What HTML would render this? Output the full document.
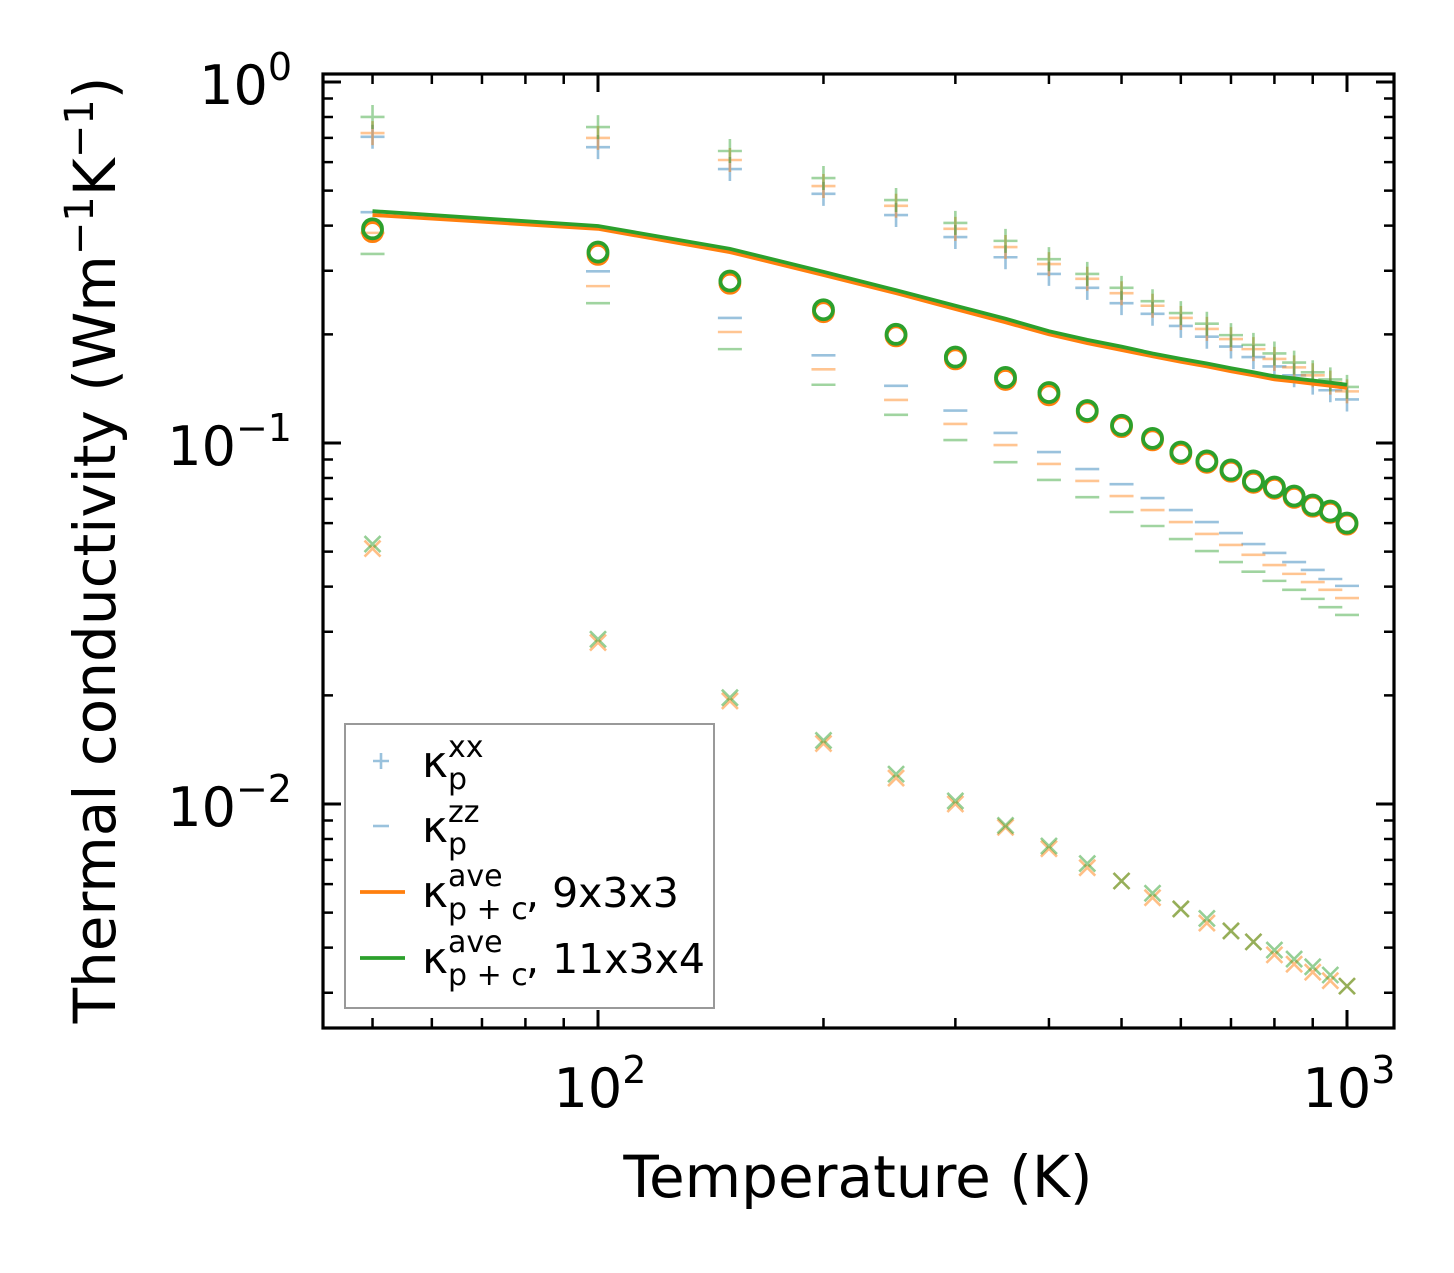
<!DOCTYPE html>
<html><head><meta charset="utf-8"><style>
body{margin:0;background:#fff;}
svg text{font-family:"DejaVu Sans","Liberation Sans",sans-serif;}
</style></head><body>
<svg id="chart" width="1454" height="1268" viewBox="0 0 1454 1268" xmlns="http://www.w3.org/2000/svg">
<rect width="1454" height="1268" fill="#fff"/>
<g id="marks"></g>
<g id="axes"></g>
</svg>
<script>
const temps=[50,100,150,200,250,300,350,400,450,500,550,600,650,700,750,800,850,900,950,1000];
const kxxBlue=[0.705,0.660,0.574,0.490,0.428,0.372,0.327,0.294,0.269,0.244,0.228,0.211,0.197,0.185,0.173,0.163,0.154,0.147,0.140,0.132];
const kxxOrange=[0.722,0.700,0.608,0.515,0.454,0.392,0.349,0.313,0.285,0.260,0.240,0.222,0.207,0.194,0.182,0.171,0.162,0.154,0.147,0.139];
const kxxGreen=[0.800,0.750,0.644,0.542,0.471,0.407,0.363,0.323,0.294,0.269,0.247,0.229,0.214,0.199,0.187,0.177,0.167,0.157,0.150,0.143];
const kzzBlue=[0.436,0.299,0.222,0.175,0.144,0.123,0.1066,0.0944,0.0847,0.0769,0.0704,0.0652,0.0604,0.0563,0.0525,0.0496,0.0468,0.0445,0.0420,0.0402];
const kzzOrange=[0.382,0.272,0.203,0.160,0.1316,0.1129,0.0987,0.0875,0.0785,0.0713,0.0652,0.0604,0.0560,0.0522,0.0490,0.0459,0.0434,0.0412,0.0392,0.0372];
const kzzGreen=[0.334,0.244,0.182,0.145,0.1197,0.1019,0.0885,0.0790,0.0708,0.0644,0.0589,0.0542,0.0502,0.0468,0.0440,0.0415,0.0392,0.0370,0.0351,0.0334];
const kaveOrange=[0.385,0.333,0.277,0.231,0.198,0.171,0.150,0.136,0.122,0.111,0.102,0.0935,0.0884,0.0835,0.0778,0.0749,0.0707,0.0668,0.0643,0.0596];
const kaveGreen=[0.392,0.338,0.281,0.234,0.200,0.173,0.152,0.138,0.123,0.112,0.103,0.0944,0.0892,0.0842,0.0785,0.0755,0.0713,0.0673,0.0648,0.0600];
const lineOrange=[0.428,0.392,0.338,0.292,0.260,0.235,0.216,0.200,0.189,0.181,0.174,0.168,0.163,0.158,0.154,0.150,0.148,0.146,0.144,0.142];
const lineGreen=[0.439,0.399,0.345,0.298,0.265,0.240,0.221,0.204,0.193,0.185,0.177,0.171,0.166,0.161,0.157,0.153,0.151,0.149,0.147,0.145];
const kcOrange=[0.0510,0.0280,0.0193,0.0147,0.0118,0.0100,0.00862,0.00752,0.00666,0.00612,0.00550,0.00512,0.00468,0.00445,0.00415,0.00382,0.00360,0.00342,0.00324,0.00313];
const kcGreen=[0.0525,0.0286,0.0197,0.0150,0.0121,0.0102,0.00872,0.00765,0.00684,0.00612,0.00566,0.00512,0.00482,0.00445,0.00415,0.00394,0.00372,0.00354,0.00336,0.00313];
const xTickVals=[100,1000];
const xTickLabels=["2","3"];
const yTickVals=[1,0.1,0.01];
const yTickLabels=["0","\u22121","\u22122"];

const NS="http://www.w3.org/2000/svg";
const L=323,R=1394,T=74,B=1028;
function xs(v){return 598+749*Math.log10(v/100);}
function ys(v){return 82-361*Math.log10(v);}
const marks=document.getElementById('marks'),axes=document.getElementById('axes');
function el(tag,attrs,parent){const e=document.createElementNS(NS,tag);for(const k in attrs)e.setAttribute(k,attrs[k]);parent.appendChild(e);return e;}
const C={b:'#1f77b4',o:'#ff7f0e',g:'#2ca02c'};

function plus(arr,col,name){arr.forEach((v,i)=>{const x=xs(temps[i]),y=ys(v);
 const p=el('path',{d:`M${x-12},${y}H${x+12}M${x},${y-12}V${y+12}`,stroke:col,'stroke-width':2.6,'stroke-opacity':0.45,fill:'none'},marks);
 
 });}
function minus(arr,col,name){arr.forEach((v,i)=>{const x=xs(temps[i]),y=ys(v);
 const p=el('path',{d:`M${x-12},${y}H${x+12}`,stroke:col,'stroke-width':2.6,'stroke-opacity':0.45,fill:'none'},marks);
 
 });}
function cross(arr,col,name){arr.forEach((v,i)=>{const x=xs(temps[i]),y=ys(v);
 const p=el('path',{d:`M${x-8},${y-8}L${x+8},${y+8}M${x-8},${y+8}L${x+8},${y-8}`,stroke:col,'stroke-width':2.6,'stroke-opacity':0.5,fill:'none'},marks);
 
 });}
function circ(arr,col,name){arr.forEach((v,i)=>{
 const c=el('circle',{cx:xs(temps[i]),cy:ys(v),r:9.5,stroke:col,'stroke-width':3.8,fill:'none'},marks);
 
 });}
function line(arr,col,name){const d=arr.map((v,i)=>(i?'L':'M')+xs(temps[i]).toFixed(1)+','+ys(v).toFixed(1)).join('');
 const p=el('path',{d:d,stroke:col,'stroke-width':3.8,fill:'none'},marks);
 
 }

plus(kxxBlue,C.b,'kxx-blue-marker');plus(kxxOrange,C.o,'kxx-orange-marker');plus(kxxGreen,C.g,'kxx-green-marker');
minus(kzzBlue,C.b,'kzz-blue-marker');minus(kzzOrange,C.o,'kzz-orange-marker');minus(kzzGreen,C.g,'kzz-green-marker');
cross(kcOrange,C.o,'kc-orange-marker');cross(kcGreen,C.g,'kc-green-marker');
line(lineOrange,C.o,'kave-9x3x3-line');line(lineGreen,C.g,'kave-11x3x4-line');
circ(kaveOrange,C.o,'kave-orange-circle');circ(kaveGreen,C.g,'kave-green-circle');

function tk(d,w){el('path',{d:d,stroke:'#000','stroke-width':w,fill:'none'},axes);}
for(let dec=10;dec<=1000;dec*=10){for(let k=1;k<10;k++){const v=dec*k;const x=xs(v);if(x<L||x>R)continue;
 const len=(k===1)?18:10;tk(`M${x},${B}V${B-len}M${x},${T}V${T+len}`,k===1?3:2.5);}}
for(let dec=0.001;dec<=1;dec*=10){for(let k=1;k<10;k++){const v=dec*k;const y=ys(v);if(y<T||y>B)continue;
 const len=(k===1)?18:10;tk(`M${L},${y}H${L+len}M${R},${y}H${R-len}`,k===1?3:2.5);}}
const fr=el('rect',{x:L,y:T,width:R-L,height:B-T,fill:'none',stroke:'#000','stroke-width':3.2},axes);



xTickVals.forEach((v,i)=>{const t=el('text',{x:xs(v)+2,y:1107,'font-size':54,'text-anchor':'middle'},axes);
 
 
 t.innerHTML=`10<tspan dy="-24" font-size="38">${xTickLabels[i]}</tspan>`;});
yTickVals.forEach((v,i)=>{const t=el('text',{x:292,y:ys(v)+22,'font-size':54,'text-anchor':'end'},axes);
 
 
 t.innerHTML=`10<tspan dy="-24" font-size="38">${yTickLabels[i]}</tspan>`;});
</script>
<div style="position:absolute;left:0;top:0;width:1454px;height:1268px;pointer-events:none">
<svg width="1454" height="1268" style="position:absolute;left:0;top:0">
<text x="858" y="1197" font-size="58" text-anchor="middle" font-family="DejaVu Sans, Liberation Sans, sans-serif">Temperature (K)</text>
<text transform="translate(115,550) rotate(-90)" font-size="58" text-anchor="middle" font-family="DejaVu Sans, Liberation Sans, sans-serif">Thermal conductivity (Wm<tspan dy="-22" font-size="40">−1</tspan><tspan dy="22">K</tspan><tspan dy="-22" font-size="40">−1</tspan><tspan dy="22">)</tspan></text>
<g font-family="DejaVu Sans, Liberation Sans, sans-serif">
<rect x="345" y="724" width="369" height="284" fill="#fff" fill-opacity="0.8" stroke="#999" stroke-width="2"/>
<g>
<path d="M373,761H389M381,753V769" stroke="#1f77b4" stroke-opacity="0.45" stroke-width="2.6"/>
<text x="422" y="777" font-size="44">κ</text><text x="448" y="789" font-size="30">p</text><text x="448" y="757" font-size="30">xx</text></g>
<g>
<path d="M373,826H389" stroke="#1f77b4" stroke-opacity="0.45" stroke-width="2.6"/>
<text x="422" y="842" font-size="44">κ</text><text x="448" y="854" font-size="30">p</text><text x="448" y="822" font-size="30">zz</text></g>
<g>
<path d="M360,892H405" stroke="#ff7f0e" stroke-width="3.8"/>
<text x="422" y="907" font-size="44">κ</text><text x="448" y="919" font-size="30">p + c</text><text x="448" y="886" font-size="30">ave</text><text x="526" y="907" font-size="41">, 9x3x3</text></g>
<g>
<path d="M360,958H405" stroke="#2ca02c" stroke-width="3.8"/>
<text x="422" y="973" font-size="44">κ</text><text x="448" y="985" font-size="30">p + c</text><text x="448" y="952" font-size="30">ave</text><text x="526" y="973" font-size="41">, 11x3x4</text></g>
</g>
</svg></div>
</body></html>
